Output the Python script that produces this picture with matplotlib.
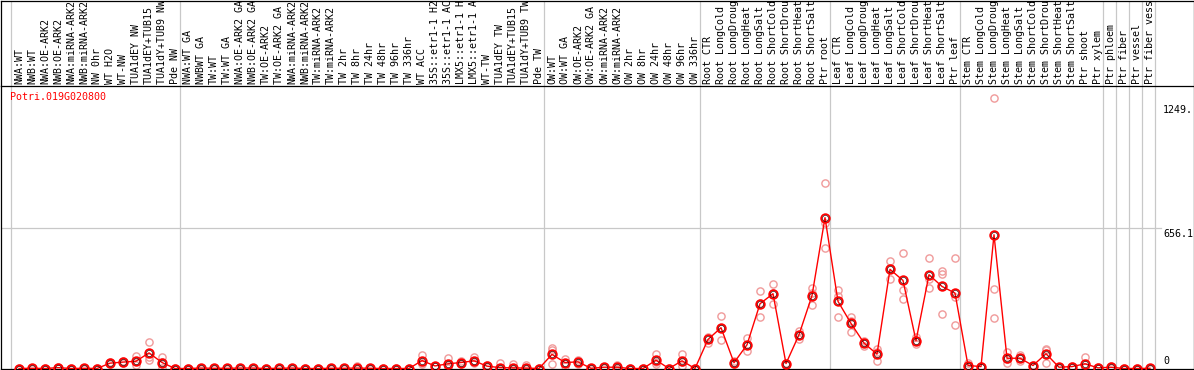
import numpy as np
import matplotlib
matplotlib.use("Agg")
import matplotlib.pyplot as plt
import matplotlib.transforms as mtransforms

# gene + sample columns
gene = "Potri.019G020800"

group_sizes = [13, 28, 12, 10, 10, 11, 1, 1, 1, 1]

labels = [
    "NWA:WT", "NWB:WT", "NWA:OE-ARK2", "NWB:OE-ARK2", "NWA:miRNA-ARK2",
    "NWB:miRNA-ARK2", "NW 0hr", "WT H2O", "WT-NW", "TUA1dEY NW",
    "TUA1dEY+TUB15", "TUA1dY+TUB9 NW", "Pde NW",
    "NWA:WT GA", "NWBWT GA", "TW:WT", "TW:WT GA", "NWA:OE-ARK2 GA",
    "NWB:OE-ARK2 GA", "TW:OE-ARK2", "TW:OE-ARK2 GA", "NWA:miRNA-ARK2",
    "NWB:miRNA-ARK2", "TW:miRNA-ARK2", "TW:miRNA-ARK2", "TW 2hr", "TW 8hr",
    "TW 24hr", "TW 48hr", "TW 96hr", "TW 336hr", "WT ACC", "35S::etr1-1 H2O",
    "35S::etr1-1 ACC", "LMX5::etr1-1 H2O", "LMX5::etr1-1 ACC", "WT-TW",
    "TUA1dEY TW", "TUA1dEY+TUB15", "TUA1dY+TUB9 TW", "Pde TW",
    "OW:WT", "OW:WT GA", "OW:OE-ARK2", "OW:OE-ARK2 GA", "OW:miRNA-ARK2",
    "OW:miRNA-ARK2", "OW 2hr", "OW 8hr", "OW 24hr", "OW 48hr", "OW 96hr",
    "OW 336hr",
    "Root CTR", "Root LongCold", "Root LongDrought", "Root LongHeat",
    "Root LongSalt", "Root ShortCold", "Root ShortDrought", "Root ShortHeat",
    "Root ShortSalt", "Ptr root",
    "Leaf CTR", "Leaf LongCold", "Leaf LongDrought", "Leaf LongHeat",
    "Leaf LongSalt", "Leaf ShortCold", "Leaf ShortDrought", "Leaf ShortHeat",
    "Leaf ShortSalt", "Ptr leaf",
    "Stem CTR", "Stem LongCold", "Stem LongDrought", "Stem LongHeat",
    "Stem LongSalt", "Stem ShortCold", "Stem ShortDrought", "Stem ShortHeat",
    "Stem ShortSalt", "Ptr shoot", "Ptr xylem",
    "Ptr phloem", "Ptr fiber", "Ptr vessel", "Ptr fiber vessel",
]

means = [0, 1, 0, 4, 0, 1, 0, 25, 30, 34, 73, 28, 0,
         0, 2, 1, 1, 2, 2, 0, 1, 2, 0, 0, 1, 1, 2, 1, 0, 0, 0, 37, 12, 22,
         28, 36, 11, 4, 3, 2, 0,
         66, 28, 31, 1, 6, 6, 0, 0, 39, 0, 36, 0,
         136, 191, 27, 111, 303, 350, 23, 158, 341, 706,
         314, 211, 119, 67, 464, 412, 130, 439, 384, 353,
         14, 9, 626, 48, 48, 14, 69, 6, 9, 22, 3,
         6, 0, 0, 1]

rep_hi = [1, 3, 1, 6, 1, 3, 1, 30, 34, 58, 125, 52, 1,
          1, 4, 2, 2, 4, 4, 1, 2, 4, 1, 1, 2, 2, 12, 2, 1, 1, 1, 64, 14, 48,
          36, 52, 16, 27, 22, 18, 1,
          97, 44, 41, 2, 8, 16, 1, 1, 67, 1, 66, 1,
          148, 247, 35, 141, 364, 397, 28, 177, 375, 870,
          366, 239, 131, 89, 503, 542, 147, 519, 456, 519,
          25, 12, 1264, 75, 64, 16, 92, 8, 12, 53, 5,
          12, 1, 1, 2]

rep_mid = [0, 1, 0, 4, 0, 1, 0, 25, 30, 34, 52, 32, 0,
           0, 2, 1, 1, 2, 2, 0, 1, 2, 0, 0, 1, 1, 2, 1, 0, 0, 0, 28, 12, 18,
           28, 33, 11, 1, 2, 2, 0,
           88, 28, 31, 1, 6, 2, 0, 0, 30, 0, 31, 0,
           143, 191, 25, 108, 306, 352, 23, 158, 351, 681,
           337, 224, 119, 78, 472, 366, 130, 420, 444, 334,
           10, 9, 373, 44, 47, 14, 88, 6, 9, 8, 3,
           5, 0, 0, 1]

rep_lo = [0, 0, 0, 2, 0, 0, 0, 20, 26, 16, 40, 2, 0,
          0, 0, 0, 0, 0, 0, 0, 0, 0, 0, 0, 0, 0, 0, 0, 0, 0, 0, 20, 10, 1,
          21, 24, 6, 0, 0, 0, 0,
          19, 14, 22, 0, 4, 0, 0, 0, 20, 0, 11, 0,
          117, 134, 21, 84, 239, 301, 18, 139, 297, 566,
          239, 170, 107, 34, 417, 327, 113, 378, 256, 205,
          7, 6, 237, 25, 33, 12, 27, 4, 6, 5, 1,
          1, 0, 0, 0]

ytick_vals = [1249, 656.1, 0]
ytick_text = ["1249.", "656.1", "0"]

# pixel layout of the original image
W, H = 1194, 370
x0_px, step_px = 19, 13          # first column centre, column pitch
zero_px, grid_px = 368.5, 228.3  # rows of 0 and 656.1
k = 656.1 / (zero_px - grid_px)
head_px = 86

mono = "DejaVu Sans Mono"
fs = 7.2

fig = plt.figure(figsize=(W / 100, H / 100), dpi=100)
fig.patch.set_facecolor("white")

axl, axr = 0.5 / W, 1193.5 / W
xlim = ((0.5 - x0_px) / step_px, (1193.5 - x0_px) / step_px)

ax = fig.add_axes([axl, 1 / H, axr - axl, (369 - head_px) / H])
hd = fig.add_axes([axl, (H - head_px) / H, axr - axl, (head_px - 0.5) / H])

for a in (ax, hd):
    a.set_xlim(*xlim)
    a.set_xticks([])
    a.set_yticks([])
    for s in a.spines.values():
        s.set_color("black")
        s.set_linewidth(0.9)
ax.spines["top"].set_visible(False)

ax.set_ylim((zero_px - 369) * k, (zero_px - head_px) * k)
hd.set_ylim(head_px, 0)

# group separators
bounds = np.concatenate([[0], np.cumsum(group_sizes)]) - 0.615
for b in bounds:
    for a in (ax, hd):
        a.axvline(b, color="#c8c8c8", lw=0.9, zorder=0)

ax.axhline(656.1, xmin=0, xmax=1160 / 1193, color="#c8c8c8", lw=0.9, zorder=0)

xs = np.arange(len(means))

# replicates
for r in (rep_hi, rep_mid, rep_lo):
    ax.plot(xs, r, ls="none", marker="o", ms=5.2, mfc="none",
            mec="#f09a9a", mew=1.0, zorder=2)

ax.plot(xs, means, color="red", lw=1.0, zorder=3)
ax.plot(xs, means, ls="none", marker="o", ms=6.2, mfc="none",
        mec="red", mew=1.3, zorder=4)
ax.plot(xs, means, ls="none", marker="o", ms=4.4, mfc="none",
        mec="#300000", mew=0.45, zorder=5)

# column labels
for i, lab in enumerate(labels):
    hd.text(i, head_px - 2, lab, rotation=90, rotation_mode="anchor",
            ha="left", va="center", fontsize=fs, family=mono,
            clip_on=True)

# y labels at the right
tx = mtransforms.blended_transform_factory(ax.transAxes, ax.transData)
xl = (1163 - 0.5) / 1192.9
for v, t in zip(ytick_vals, ytick_text):
    if v == 0:
        off = mtransforms.offset_copy(tx, fig=fig, y=2.5, units="dots")
        ax.text(xl, v, t, transform=off, ha="left", va="bottom",
                fontsize=fs, family=mono)
    elif v == ytick_vals[0]:
        off = mtransforms.offset_copy(tx, fig=fig, y=-3, units="dots")
        ax.text(xl, v, t, transform=off, ha="left", va="top",
                fontsize=fs, family=mono)
    else:
        off = mtransforms.offset_copy(tx, fig=fig, y=-1, units="dots")
        ax.text(xl, v, t, transform=off, ha="left", va="top",
                fontsize=fs, family=mono)

fig.text(10 / W, 1 - 92 / H, gene, color="red", ha="left", va="top",
         fontsize=fs, family=mono)

fig.savefig("out.png", dpi=100)
